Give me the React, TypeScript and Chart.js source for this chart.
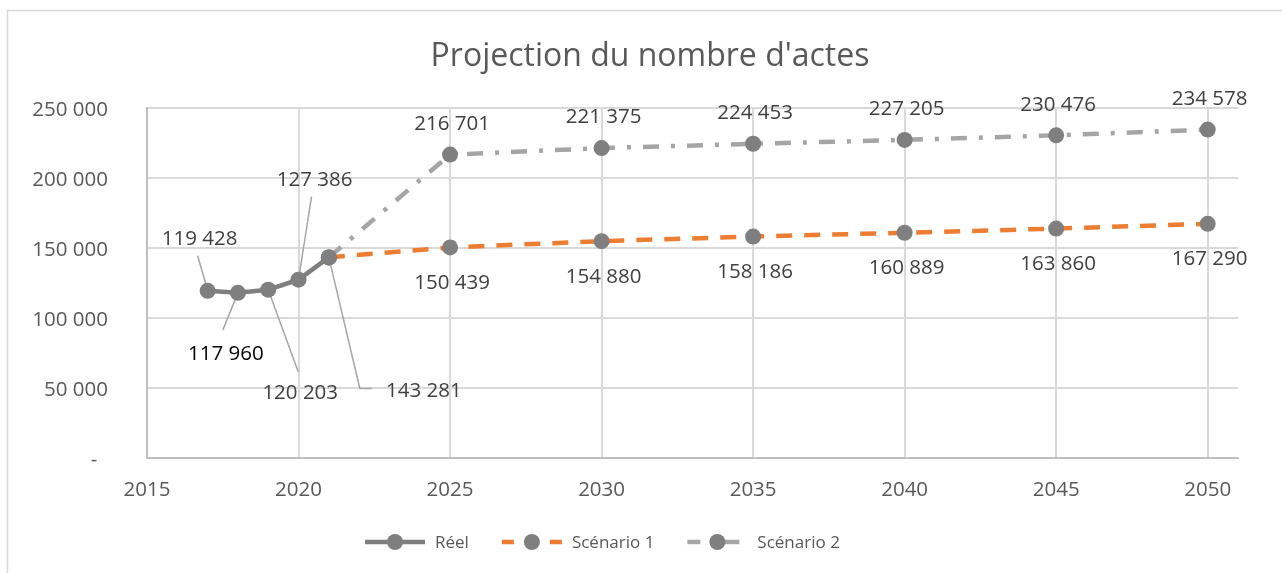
import React, { useEffect, useRef } from "react";
import { Chart, registerables } from "chart.js";

Chart.register(...registerables);

// ---- Data ----
const chartTitle = "Projection du nombre d'actes";
const seriesNames = ["Réel", "Scénario 1", "Scénario 2"];
const reelYears = [2017, 2018, 2019, 2020, 2021];
const reelValues = [119428, 117960, 120203, 127386, 143281];
const scenarioYears = [2021, 2025, 2030, 2035, 2040, 2045, 2050];
const scenario1Values = [143281, 150439, 154880, 158186, 160889, 163860, 167290];
const scenario2Values = [143281, 216701, 221375, 224453, 227205, 230476, 234578];
const xTicks = [2015, 2020, 2025, 2030, 2035, 2040, 2045, 2050];
const yTicks = [0, 50000, 100000, 150000, 200000, 250000];

// ---- Styles / layout ----
const FONT = "'Open Sans', sans-serif";
const AXIS_COLOR = "#595959";
const LABEL_COLOR = "#404040";
const MARKER = "#7f7f7f";
const seriesColors = ["#7f7f7f", "#ed7d31", "#a5a5a5"];
const seriesDash: number[][] = [[], [16, 12], [16, 12, 4, 12]];
const legendSegments: number[][][] = [
  [[0, 60]],
  [[0, 12], [48, 60]],
  [[0, 13], [36, 52]],
];
// label offsets (px) for the "Réel" series with leader lines
const reelLabelLayout = [
  { dx: -8, dy: -53, leader: [[-1, -4], [-10, -35]], color: LABEL_COLOR },
  { dx: -12, dy: 60, leader: [[0, 0], [-15, 37]], color: "#000000" },
  { dx: 32, dy: 102, leader: [[0, 0], [30, 82]], color: LABEL_COLOR },
  { dx: 16, dy: -101, leader: [[0, 0], [13, -83]], color: LABEL_COLOR },
  { dx: 95, dy: 132, leader: [[0, 0], [31, 131], [43, 131]], color: LABEL_COLOR },
];
const TEXT_SHIFT = 1.5;

const fmt = (v: number) =>
  String(Math.round(v)).replace(/\B(?=(\d{3})+(?!\d))/g, " ");

const framePlugin = {
  id: "frame",
  beforeDraw(chart: any) {
    const ctx = chart.ctx;
    ctx.save();
    ctx.fillStyle = "#ffffff";
    ctx.fillRect(0, 0, chart.width, chart.height);
    ctx.strokeStyle = "#d9d9d9";
    ctx.lineWidth = 1.5;
    ctx.strokeRect(7.5, 10.5, chart.width + 50, chart.height + 50);
    ctx.restore();
  },
  afterDraw(chart: any) {
    const ctx = chart.ctx;
    ctx.save();
    ctx.font = `32px ${FONT}`;
    ctx.fillStyle = AXIS_COLOR;
    ctx.textAlign = "center";
    ctx.textBaseline = "middle";
    ctx.fillText(chartTitle, 650, 57);
    ctx.restore();
  },
};

const leaderPlugin = {
  id: "leaders",
  beforeDatasetsDraw(chart: any) {
    const ctx = chart.ctx;
    const meta = chart.getDatasetMeta(0);
    ctx.save();
    ctx.strokeStyle = "#a6a6a6";
    ctx.lineWidth = 1.5;
    meta.data.forEach((pt: any, i: number) => {
      const lay = reelLabelLayout[i];
      if (!lay) return;
      ctx.beginPath();
      lay.leader.forEach((p, k) => {
        const x = pt.x + p[0];
        const y = pt.y + p[1];
        if (k === 0) ctx.moveTo(x, y);
        else ctx.lineTo(x, y);
      });
      ctx.stroke();
    });
    ctx.restore();
  },
};

const dataLabelPlugin = {
  id: "dataLabels",
  afterDatasetsDraw(chart: any) {
    const ctx = chart.ctx;
    ctx.save();
    ctx.font = `20.5px ${FONT}`;
    ctx.textAlign = "center";
    ctx.textBaseline = "middle";
    // Réel
    const m0 = chart.getDatasetMeta(0);
    m0.data.forEach((pt: any, i: number) => {
      const lay = reelLabelLayout[i];
      ctx.fillStyle = lay.color;
      ctx.fillText(fmt(reelValues[i]), pt.x + lay.dx, pt.y + lay.dy + TEXT_SHIFT);
    });
    // Scénario 1 (below)
    const m1 = chart.getDatasetMeta(1);
    ctx.fillStyle = LABEL_COLOR;
    m1.data.forEach((pt: any, i: number) => {
      if (i === 0) return;
      ctx.fillText(fmt(scenario1Values[i]), pt.x + 2, pt.y + 34 + TEXT_SHIFT);
    });
    // Scénario 2 (above)
    const m2 = chart.getDatasetMeta(2);
    m2.data.forEach((pt: any, i: number) => {
      if (i === 0) return;
      ctx.fillText(fmt(scenario2Values[i]), pt.x + 2, pt.y - 32 + TEXT_SHIFT);
    });
    ctx.restore();
  },
};

const legendPlugin = {
  id: "customLegend",
  afterDraw(chart: any) {
    const ctx = chart.ctx;
    ctx.save();
    ctx.font = `17px ${FONT}`;
    ctx.textBaseline = "middle";
    ctx.textAlign = "left";
    let x = 365;
    const y = 542;
    chart.data.datasets.forEach((ds: any, i: number) => {
      ctx.strokeStyle = ds.borderColor;
      ctx.lineWidth = 4.5;
      ctx.setLineDash([]);
      legendSegments[i].forEach((s) => {
        ctx.beginPath();
        ctx.moveTo(x + s[0], y);
        ctx.lineTo(x + s[1], y);
        ctx.stroke();
      });
      ctx.fillStyle = MARKER;
      ctx.beginPath();
      ctx.arc(x + 30, y, 8, 0, Math.PI * 2);
      ctx.fill();
      ctx.fillStyle = AXIS_COLOR;
      ctx.fillText(ds.label, x + 70, y + 1);
      x += 70 + ctx.measureText(ds.label).width + 33;
    });
    ctx.restore();
  },
};

export default function App() {
  const canvasRef = useRef<HTMLCanvasElement | null>(null);

  useEffect(() => {
    if (!canvasRef.current) return;
    const mk = (years: number[], vals: number[]) =>
      years.map((x, i) => ({ x, y: vals[i] }));
    const series = [
      mk(reelYears, reelValues),
      mk(scenarioYears, scenario1Values),
      mk(scenarioYears, scenario2Values),
    ];
    const chart = new Chart(canvasRef.current, {
      type: "line",
      data: {
        datasets: series.map((data, i) => ({
          label: seriesNames[i],
          data,
          borderColor: seriesColors[i],
          backgroundColor: seriesColors[i],
          borderWidth: 4.5,
          borderDash: seriesDash[i],
          borderCapStyle: "butt",
          tension: 0,
          fill: false,
          pointRadius: 8,
          pointHoverRadius: 8,
          pointBackgroundColor: MARKER,
          pointBorderColor: MARKER,
          pointBorderWidth: 0,
        })),
      },
      options: {
        animation: false,
        responsive: true,
        maintainAspectRatio: false,
        layout: { padding: { left: 0, right: 44, top: 108, bottom: 65 } },
        plugins: {
          legend: { display: false },
          tooltip: { enabled: false },
          title: { display: false },
        },
        scales: {
          x: {
            type: "linear",
            min: 2015,
            max: 2051,
            afterBuildTicks: (scale: any) => {
              scale.ticks = xTicks.map((v) => ({ value: v }));
            },
            afterFit: (scale: any) => {
              scale.height = 50;
            },
            grid: { color: "#d9d9d9", lineWidth: 2, drawTicks: false },
            border: { color: "#bfbfbf", width: 2 },
            ticks: {
              color: AXIS_COLOR,
              font: { family: FONT, size: 20.5 },
              padding: 19.5,
              maxRotation: 0,
              autoSkip: false,
              callback: (v: any) => String(v),
            },
          },
          y: {
            type: "linear",
            min: 0,
            max: 250000,
            afterBuildTicks: (scale: any) => {
              scale.ticks = yTicks.map((v) => ({ value: v }));
            },
            afterFit: (scale: any) => {
              scale.width = 147;
            },
            grid: { color: "#d9d9d9", lineWidth: 2, drawTicks: false },
            border: { color: "#bfbfbf", width: 2 },
            ticks: {
              color: AXIS_COLOR,
              font: { family: FONT, size: 20.5 },
              padding: 39,
              labelOffset: 2,
              autoSkip: false,
              callback: (v: any) => (Number(v) === 0 ? "-  " : fmt(Number(v))),
            },
          },
        },
      },
      plugins: [framePlugin, leaderPlugin, dataLabelPlugin, legendPlugin],
    } as any);
    return () => chart.destroy();
  }, []);

  return (
    <div
      style={{
        position: "fixed",
        left: 0,
        top: 0,
        width: 1282,
        height: 573,
        background: "#ffffff",
      }}
    >
      <canvas ref={canvasRef} />
    </div>
  );
}
